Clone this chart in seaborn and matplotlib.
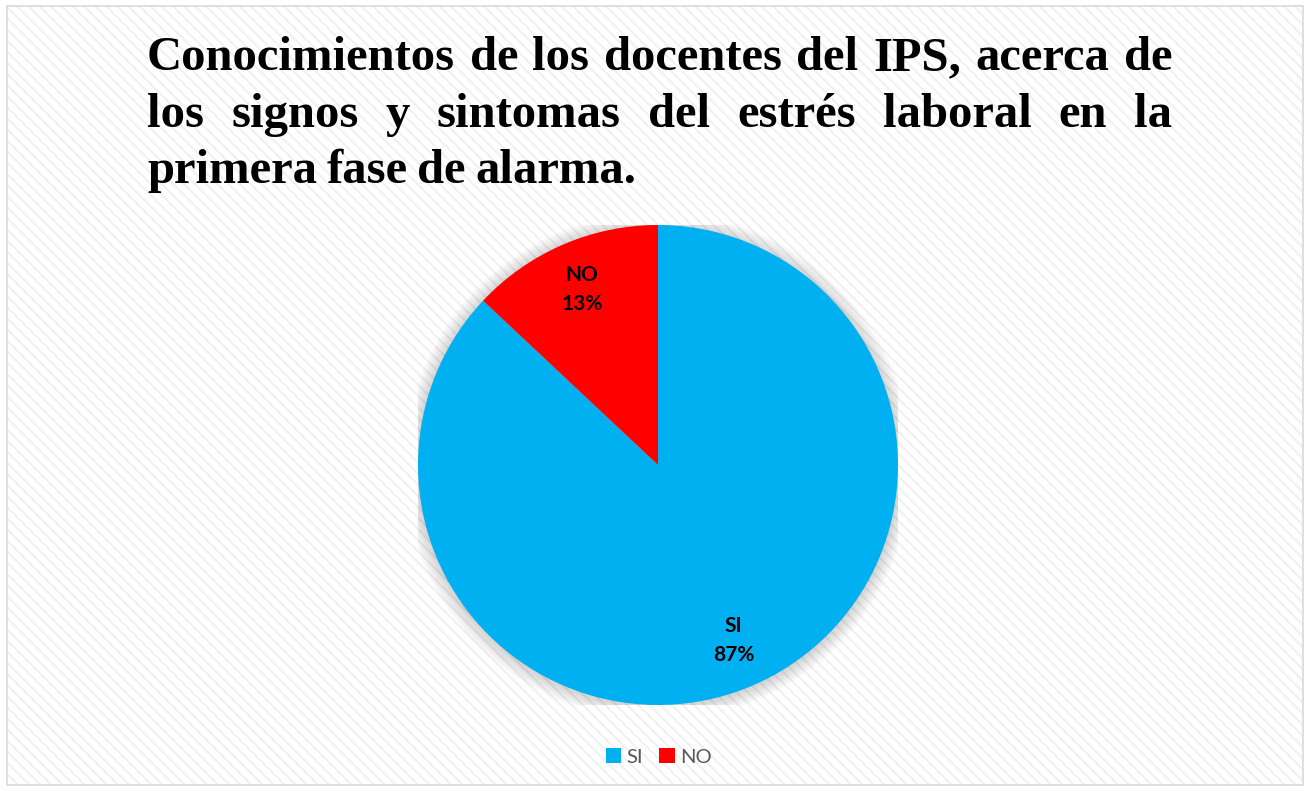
import matplotlib
matplotlib.use("Agg")
import matplotlib.pyplot as plt
from matplotlib.patches import Rectangle, Circle
import numpy as np
import seaborn as sns

# Chart data
categories = ["SI", "NO"]
percentages = [87, 13]
slice_colors = ["#00B0F0", "#FF0000"]

title_lines = [
    "Conocimientos de los docentes del IPS, acerca de",
    "los signos y sintomas del estrés  laboral en la",
    "primera fase de alarma.",
]

sns.set_theme(style="white")
plt.rcParams["font.family"] = ["Lato", "DejaVu Sans"]
plt.rcParams["hatch.linewidth"] = 1.6

W, H = 1310, 791
fig = plt.figure(figsize=(W / 100, H / 100), dpi=100)
fig.patch.set_facecolor("white")

# background with faint diagonal stripes + thin border
bg = fig.add_axes([0, 0, 1, 1])
bg.set_xlim(0, W)
bg.set_ylim(H, 0)
bg.axis("off")
bg.add_patch(Rectangle((7, 6), W - 14, H - 12, facecolor="white",
                       edgecolor="#f1f1f1", linewidth=0, hatch="\\\\\\"))
bg.add_patch(Rectangle((7, 6), W - 14, H - 12, facecolor="none",
                       edgecolor="#d9d9d9", linewidth=1.2))

# justified title (Times-like bold)
x0, x1 = 147, 1172
baselines = [70, 127, 183]
title_kw = dict(fontsize=35, fontweight="bold", family="Liberation Serif", color="black")
renderer = fig.canvas.get_renderer()
for i, line in enumerate(title_lines):
    words = line.split()
    texts = [bg.text(0, baselines[i], w, va="baseline", ha="left", **title_kw) for w in words]
    widths = [t.get_window_extent(renderer).width for t in texts]
    if i < len(title_lines) - 1:
        gap = (x1 - x0 - sum(widths)) / (len(words) - 1)
    else:
        gap = 9.5
    x = x0
    for t, w in zip(texts, widths):
        t.set_x(x)
        x += w + gap

# pie
cx, cy, r = 658, 465, 240
ax = fig.add_axes([(cx - r) / W, 1 - (cy + r) / H, 2 * r / W, 2 * r / H])
ax.axis("off")

# soft shadow
for k in range(10):
    ax.add_patch(Circle((0.0, -0.005), 1.0 + 0.006 * (k + 1), color="black",
                        alpha=0.016, linewidth=0, zorder=0))

wedges, _ = ax.pie(percentages, colors=slice_colors, startangle=90, counterclock=False,
                   radius=1.0, wedgeprops=dict(linewidth=0), frame=False)
ax.set_xlim(-1, 1)
ax.set_ylim(-1, 1)
ax.set_aspect("auto")

start = 90.0
for cat, pct in zip(categories, percentages):
    span = pct / sum(percentages) * 360
    mid = np.deg2rad(start - span / 2)
    ax.text(0.795 * np.cos(mid), 0.795 * np.sin(mid), f"{cat}\n{pct}%",
            ha="center", va="center", fontsize=15, fontweight="bold",
            color="black", linespacing=1.55)
    start -= span

fig.legend(wedges, categories, loc="center", bbox_to_anchor=(0.503, 1 - 757 / H),
           ncol=2, frameon=False, fontsize=14.5, labelcolor="#595959",
           handlelength=0.75, handleheight=0.75, handletextpad=0.3, columnspacing=0.8)

fig.savefig("out.png", dpi=100, facecolor="white")
